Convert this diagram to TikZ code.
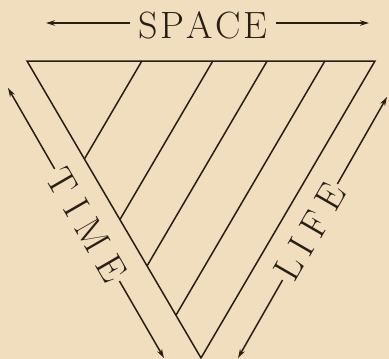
\documentclass[tikz,border=0pt]{standalone}
\usepackage{fontspec}
\usepackage{tikz}
\usetikzlibrary{arrows.meta,calc}
\definecolor{paper}{RGB}{240,222,190}
\definecolor{ink}{RGB}{40,30,22}

\begin{document}
\begin{tikzpicture}[x=1pt, y=-1pt, >={Stealth[length=9pt,width=5.5pt]}, line width=1.5pt, color=ink,
    every node/.style={font=\fontsize{38}{44}\selectfont},
    word/.style={inner xsep=2pt, inner ysep=0pt}]
    \useasboundingbox (0,0) rectangle (389,359);
    \fill[paper] (0,0) rectangle (389,359);

    \coordinate (A) at (27,61);
    \coordinate (B) at (375,61);
    \coordinate (V) at (201,358);

    \draw[line join=miter] (A) -- (B) -- (V) -- cycle;
    \foreach \t in {0.33,0.534,0.69,0.856}
        \draw ($(A)!\t!(B)$) -- ($(A)!\t!(V)$);

    \coordinate (spL) at (46,23);
    \coordinate (spR) at (369,23);
    \coordinate (tmA) at (8,88);
    \coordinate (tmB) at (164,358);
    \coordinate (lfA) at (387,97);
    \coordinate (lfB) at (238,358);

    \node[word, inner xsep=8pt] (space) at (203,25) {S\kern2.5pt P\kern2.5pt A\kern2.5pt C\kern2.5pt E};
    \draw[->] (space.west |- spL) -- (spL);
    \draw[->] (space.east |- spR) -- (spR);

    \node[word, rotate=-60] (time) at (87,225) {T\kern10pt I\kern10pt M\kern10pt E};
    \draw[->] (time) -- (tmA);
    \draw[->] (time) -- (tmB);

    \node[word, rotate=60] (life) at (310,232) {L\kern8pt I\kern8pt F\kern8pt E};
    \draw[->] (life) -- (lfA);
    \draw[->] (life) -- (lfB);
\end{tikzpicture}
\end{document}
